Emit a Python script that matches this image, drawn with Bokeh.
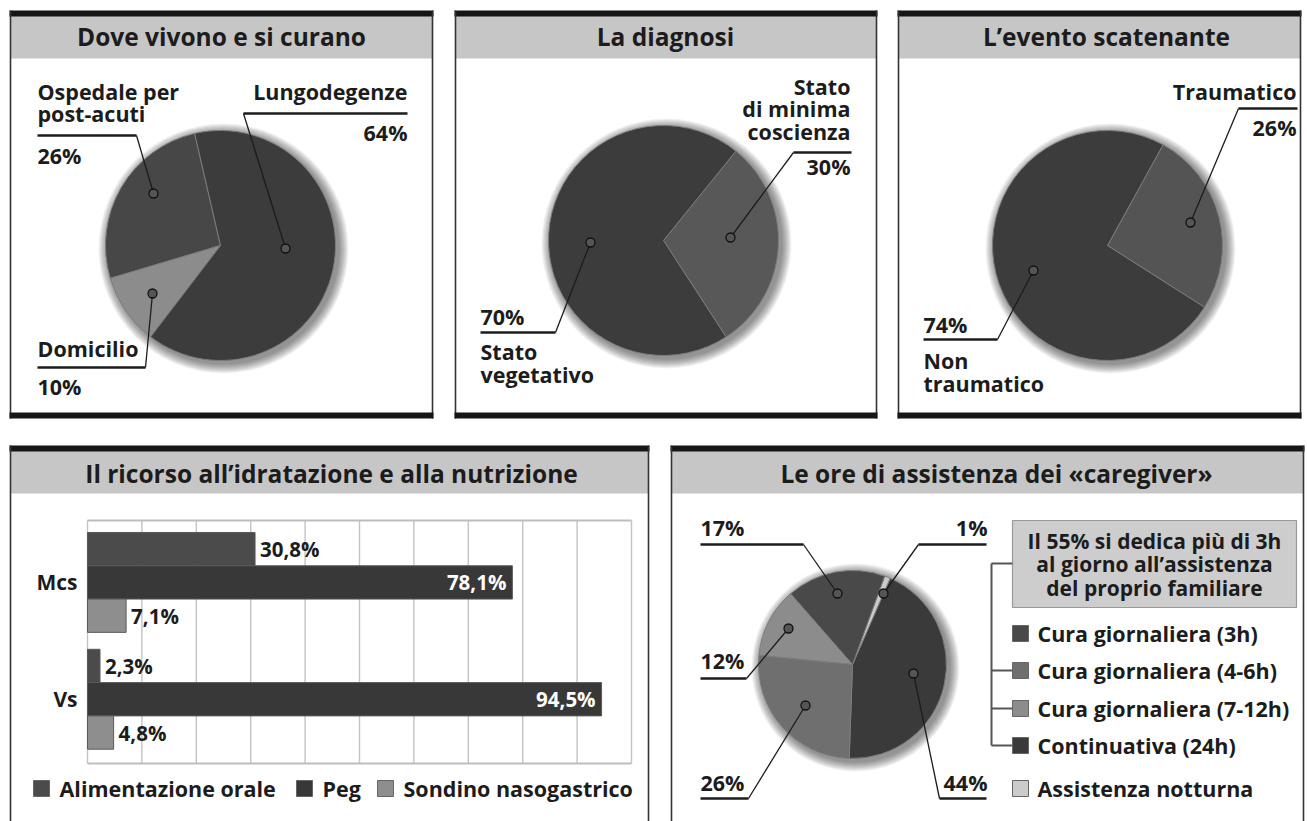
import numpy as np
from bokeh.plotting import figure
from bokeh.models import Range1d, ColumnDataSource
from bokeh.core.properties import value
from bokeh.embed import file_html
from bokeh.resources import INLINE

# ------------------------------------------------------------------ data
where_labels = ["Ospedale per post-acuti", "Domicilio", "Lungodegenze"]
where_values = [26, 10, 64]

diag_labels = ["Stato di minima coscienza", "Stato vegetativo"]
diag_values = [30, 70]

event_labels = ["Traumatico", "Non traumatico"]
event_values = [26, 74]

nutr_groups = ["Mcs", "Vs"]
nutr_series = ["Alimentazione orale", "Peg", "Sondino nasogastrico"]
nutr_mcs = [30.8, 78.1, 7.1]
nutr_vs = [2.3, 94.5, 4.8]
nutr_ticks = list(range(0, 101, 10))

care_labels = ["Continuativa (24h)", "Assistenza notturna", "Cura giornaliera (3h)",
               "Cura giornaliera (7-12h)", "Cura giornaliera (4-6h)"]
care_values = [44, 1, 17, 12, 26]
care_legend = ["Cura giornaliera (3h)", "Cura giornaliera (4-6h)", "Cura giornaliera (7-12h)",
               "Continuativa (24h)", "Assistenza notturna"]
care_note = ["Il 55% si dedica più di 3h", "al giorno all’assistenza", "del proprio familiare"]

titles = ["Dove vivono e si curano", "La diagnosi", "L’evento scatenante",
          "Il ricorso all’idratazione e alla nutrizione", "Le ore di assistenza dei «caregiver»"]

# ------------------------------------------------------------------ styles
W, H = 1307, 821
FONT = "Open Sans"
INK = "#1c1c1c"
LBL = 21.5

p = figure(width=W, height=H, x_range=Range1d(0, W), y_range=Range1d(0, H),
           output_backend="svg", toolbar_location=None, min_border=0)
p.axis.visible = False
p.grid.visible = False
p.outline_line_color = None
p.background_fill_color = "white"
p.border_fill_color = "white"


def Y(y):
    return H - y


def txt(x, y, s, align="left", size=LBL, color=INK):
    p.text(x=[x], y=[Y(y)], text=[s], text_align=align, text_baseline="middle",
           text_font=value(FONT), text_font_style="bold", text_font_size=f"{size}px",
           text_color=color)


def seg(x0, y0, x1, y1, color=INK, width=1.3):
    p.segment(x0=[x0], y0=[Y(y0)], x1=[x1], y1=[Y(y1)], line_color=color, line_width=width)


def dot(x, y):
    p.scatter(x=[x], y=[Y(y)], size=9, marker="circle", fill_color="#555555",
              line_color="#111111", line_width=1.3)


def panel(x0, x1, top, bottom, title, tx, ty, bottom_bar=True):
    band_top, band_bot = top + 5, top + 48
    p.quad(left=[x0], right=[x1], top=[Y(top)], bottom=[Y(bottom)], fill_color="white", line_color=None)
    p.quad(left=[x0], right=[x1], top=[Y(band_top)], bottom=[Y(band_bot)],
           fill_color="#c6c6c6", line_color=None)
    p.quad(left=[x0 - 1], right=[x1 + 1], top=[Y(top)], bottom=[Y(top + 6)],
           fill_color="#161616", line_color=None)
    seg(x0, top, x0, bottom, color="#333333", width=1.6)
    seg(x1, top, x1, bottom, color="#333333", width=1.6)
    if bottom_bar:
        p.quad(left=[x0 - 1], right=[x1 + 1], top=[Y(bottom - 6)], bottom=[Y(bottom)],
               fill_color="#161616", line_color=None)
    txt(tx, ty, title, align="center", size=24.5)


def pie(cx, cy, r, vals, colors, start_deg):
    v = np.array(vals, dtype=float)
    ang = start_deg + np.concatenate([[0.0], np.cumsum(v)]) / v.sum() * 360.0
    for k in range(10, 0, -1):
        p.circle(x=[cx + 3], y=[Y(cy) - 3], radius=r + k, fill_color="#000000",
                 fill_alpha=0.05, line_color=None)
    src = ColumnDataSource(dict(x=[cx] * len(v), y=[Y(cy)] * len(v),
                                s=ang[:-1], e=ang[1:], c=colors))
    p.wedge(x="x", y="y", radius=r, start_angle="s", end_angle="e",
            start_angle_units="deg", end_angle_units="deg",
            fill_color="c", line_color="#7c7c7c", line_width=1, source=src)


def pct(v):
    return f"{v}%"


# ------------------------------------------------------------------ panels
panel(10, 432, 10, 418, titles[0], 221, 36)
panel(455, 876, 10, 418, titles[1], 665, 36)
panel(898, 1300, 10, 418, titles[2], 1106, 36)
panel(10, 648, 445, H + 10, titles[3], 331, 473, bottom_bar=False)
panel(671, 1303, 445, H + 10, titles[4], 996, 473, bottom_bar=False)

# ---- pie 1: Dove vivono e si curano
pie(220, 245, 115, where_values, ["#474747", "#8c8c8c", "#3c3c3c"], 103)
txt(37, 91, "Ospedale per")
txt(37, 113, "post-acuti")
seg(37, 135, 136, 135, width=2.6)
txt(37, 155, pct(where_values[0]))
seg(136, 135, 153, 193)
dot(153, 193)
txt(407, 91, where_labels[2], align="right")
seg(243, 113, 407, 113, width=2.6)
txt(407, 132, pct(where_values[2]), align="right")
seg(243, 113, 285, 248)
dot(285, 248)
txt(37, 348, where_labels[1])
seg(37, 367, 145, 367, width=2.6)
txt(37, 386, pct(where_values[1]))
seg(145, 367, 152, 293)
dot(152, 293)

# ---- pie 2: La diagnosi
pie(663, 240, 115, diag_values, ["#585858", "#3c3c3c"], -57)
txt(850, 86, "Stato", align="right")
txt(850, 108, "di minima", align="right")
txt(850, 131, "coscienza", align="right")
seg(793, 152, 851, 152, width=2.6)
txt(850, 166, pct(diag_values[0]), align="right")
seg(793, 152, 730, 237)
dot(730, 237)
txt(480, 316, pct(diag_values[1]))
seg(480, 332, 555, 332, width=2.6)
seg(555, 332, 590, 242)
dot(590, 242)
txt(480, 351, "Stato")
txt(480, 374, "vegetativo")

# ---- pie 3: L'evento scatenante
pie(1107, 245, 115, event_values, ["#545454", "#3c3c3c"], -32.5)
txt(1296, 91, event_labels[0], align="right")
seg(1238, 108, 1297, 108, width=2.6)
txt(1296, 127, pct(event_values[0]), align="right")
seg(1238, 108, 1190, 222)
dot(1190, 222)
txt(923, 324, pct(event_values[1]))
seg(923, 339, 997, 339, width=2.6)
seg(997, 339, 1033, 270)
dot(1033, 270)
txt(923, 360, "Non")
txt(923, 383, "traumatico")

# ---- bar chart: Il ricorso all'idratazione e alla nutrizione
bar_colors = ["#4b4b4b", "#383838", "#8e8e8e"]
group_pos = {"Mcs": 1.0, "Vs": 0.0}
offsets = [0.285, 0.0, -0.285]
bx = p.subplot(x_source=Range1d(0, 100), y_source=Range1d(-0.55, 1.53),
               x_target=Range1d(87, 631), y_target=Range1d(Y(763), Y(520)))

bx.segment(x0=nutr_ticks, y0=[-0.55] * len(nutr_ticks), x1=nutr_ticks, y1=[1.53] * len(nutr_ticks),
           line_color="#c4c4c4", line_width=1.4)
bx.segment(x0=[0, 0], y0=[1.53, -0.55], x1=[100, 100], y1=[1.53, -0.55],
           line_color="#bdbdbd", line_width=2.2)

for g, vals in zip(nutr_groups, [nutr_mcs, nutr_vs]):
    ys = [group_pos[g] + o for o in offsets]
    bx.hbar(y=ys, left=0, right=vals, height=0.285, fill_color=bar_colors,
            line_color="#5a5a5a", line_width=1)
    out = [(v, y) for v, y in zip(vals, ys) if v < 50]
    ins = [(v, y) for v, y in zip(vals, ys) if v >= 50]
    bx.text(x=[v for v, _ in out], y=[y for _, y in out],
            text=[pct(str(v).replace(".", ",")) for v, _ in out], x_offset=5,
            text_align="left", text_baseline="middle", text_font=value(FONT),
            text_font_style="bold", text_font_size="20.5px", text_color=INK)
    bx.text(x=[v for v, _ in ins], y=[y for _, y in ins],
            text=[pct(str(v).replace(".", ",")) for v, _ in ins], x_offset=-6,
            text_align="right", text_baseline="middle", text_font=value(FONT),
            text_font_style="bold", text_font_size="20.5px", text_color="white")
bx.text(x=[0, 0], y=[group_pos[g] for g in nutr_groups], text=nutr_groups, x_offset=-10,
        text_align="right", text_baseline="middle", text_font=value(FONT),
        text_font_style="bold", text_font_size="21px", text_color=INK)

leg_sq = [41, 304, 385]
for xs, name, col in zip(leg_sq, nutr_series, bar_colors):
    p.rect(x=[xs], y=[Y(788)], width=16, height=16, fill_color=col, line_color="#666666")
    txt(xs + 18, 788, name)

# ---- pie 5: Le ore di assistenza
care_colors = {"Continuativa (24h)": "#3a3a3a", "Assistenza notturna": "#cbcbcb",
               "Cura giornaliera (3h)": "#494949", "Cura giornaliera (7-12h)": "#8c8c8c",
               "Cura giornaliera (4-6h)": "#6f6f6f"}
pie(852, 664, 94, care_values, [care_colors[c] for c in care_labels], -92)

txt(700, 527, pct(care_values[2]))
seg(700, 544, 803, 544, width=2.6)
seg(803, 544, 837, 593)
dot(837, 593)
txt(987, 527, pct(care_values[1]), align="right")
seg(918, 544, 986, 544, width=2.6)
seg(918, 544, 883, 593)
dot(883, 593)
txt(700, 660, pct(care_values[3]))
seg(700, 678, 746, 678, width=2.6)
seg(746, 678, 788, 628)
dot(788, 628)
txt(700, 782, pct(care_values[4]))
seg(700, 798, 748, 798, width=2.6)
seg(748, 798, 805, 705)
dot(805, 705)
txt(987, 782, pct(care_values[0]), align="right")
seg(939, 798, 986, 798, width=2.6)
seg(939, 798, 913, 673)
dot(913, 673)

p.quad(left=[1012], right=[1296], top=[Y(520)], bottom=[Y(607)], fill_color="#cdcdcd",
       line_color="#9a9a9a", line_width=1.2)
for yy, line in zip([540, 563, 587], care_note):
    txt(1154, yy, line, align="center", size=21)

leg_y = [633, 670, 708, 745, 788]
seg(991, 563, 991, 745, color="#555555", width=2)
for yy in [563, 670, 708, 745]:
    seg(991, yy, 1012, yy, color="#555555", width=2)
for yy, name in zip(leg_y, care_legend):
    p.rect(x=[1020], y=[Y(yy)], width=16, height=16, fill_color=care_colors[name], line_color="#666666")
    txt(1037, yy, name)

open("out.html", "w").write(file_html(p, INLINE))
